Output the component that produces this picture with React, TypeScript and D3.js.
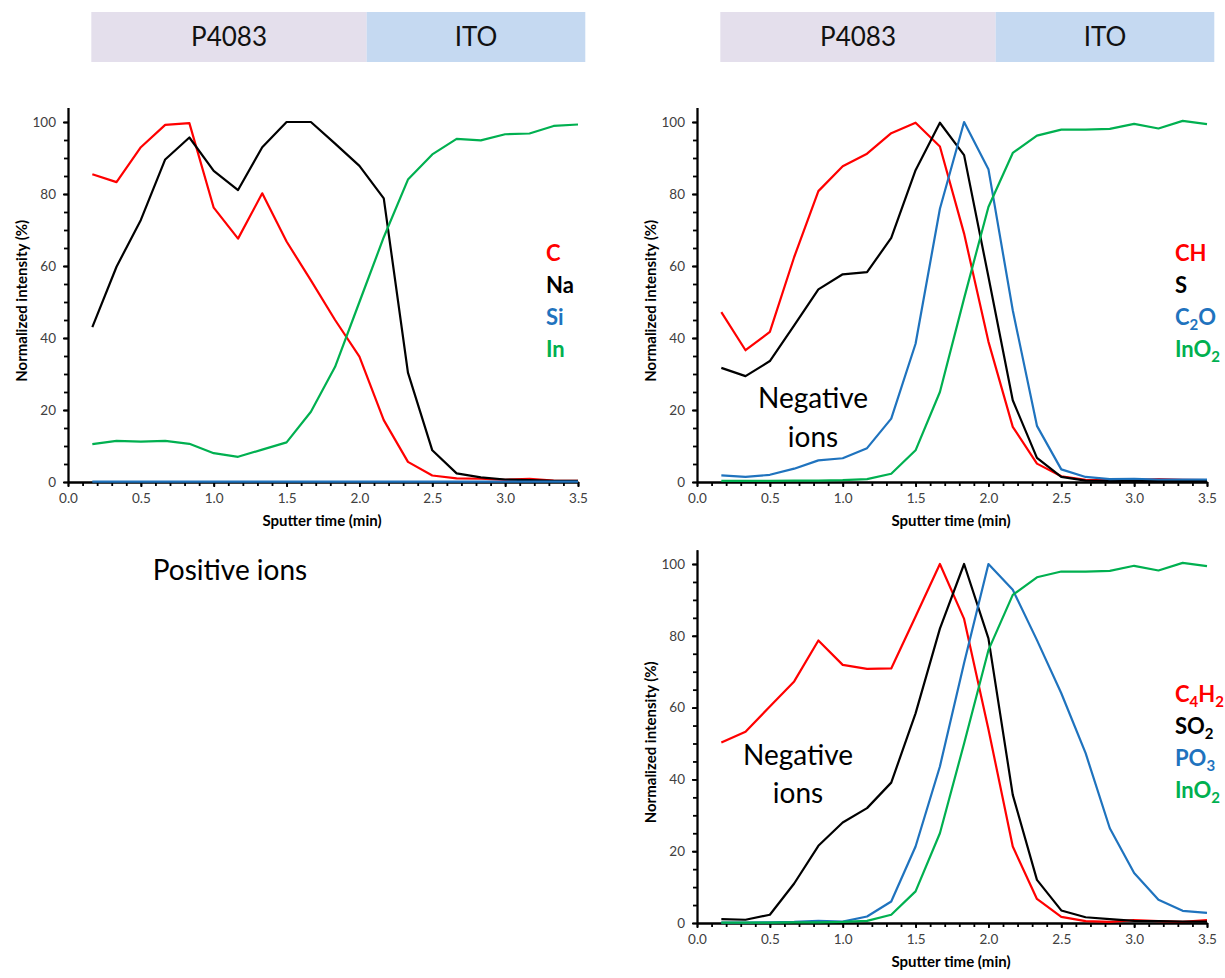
import { useEffect, useRef } from 'react';
import * as d3 from 'd3';

// sputter time (min), shared by every profile
const TIME = [0.167, 0.333, 0.5, 0.667, 0.833, 1.0, 1.167, 1.333, 1.5, 1.667, 1.833, 2.0, 2.167, 2.333, 2.5, 2.667, 2.833, 3.0, 3.167, 3.333, 3.5];

// positive ions
const POS_C = [85.5, 83.3, 93, 99.2, 99.7, 76.2, 67.6, 80.2, 66.8, 56, 45, 34.8, 17.2, 5.6, 1.8, 1.0, 0.9, 0.6, 0.9, 0.4, 0.3];
const POS_NA = [43, 59.8, 72.8, 89.6, 95.7, 86.4, 81.1, 93, 100, 100, 94, 87.8, 78.8, 30.4, 8.8, 2.4, 1.3, 0.7, 0.5, 0.3, 0.3];
const POS_SI = [0.1, 0.1, 0.1, 0.1, 0.1, 0.1, 0.1, 0.1, 0.1, 0.1, 0.1, 0.1, 0.1, 0.1, 0.1, 0.1, 0.1, 0.1, 0.1, 0.1, 0.1];
const POS_IN = [10.5, 11.4, 11.2, 11.4, 10.6, 8, 7, 9, 11, 19.5, 32, 50, 68, 84, 91, 95.3, 94.9, 96.6, 96.8, 98.9, 99.3];

// negative ions, upper panel
const NEG1_CH = [47.2, 36.6, 41.7, 62.5, 80.8, 87.7, 91.2, 96.9, 99.8, 93.2, 69, 39, 15.3, 5.1, 1.6, 0.6, 0.5, 0.5, 0.8, 0.6, 0.5];
const NEG1_S = [31.7, 29.4, 33.6, 43.5, 53.5, 57.7, 58.3, 67.8, 86.6, 99.8, 90.8, 57, 22.7, 6.7, 1.4, 0.4, 0.3, 0.3, 0.3, 0.3, 0.3];
const NEG1_C2O = [1.85, 1.4, 2, 3.7, 6, 6.6, 9.4, 17.6, 38.4, 75.9, 100, 86.9, 47.7, 15.6, 3.5, 1.4, 0.8, 0.9, 0.7, 0.7, 0.7];
const NEG1_INO2 = [0.3, 0.3, 0.3, 0.4, 0.4, 0.5, 0.8, 2.3, 8.8, 25, 51, 76.4, 91.4, 96.2, 97.9, 97.9, 98.1, 99.5, 98.2, 100.3, 99.4];

// negative ions, lower panel
const NEG2_C4H2 = [50.3, 53.3, 60.3, 67.3, 78.7, 71.9, 70.8, 70.9, 85.4, 100, 84.7, 54, 21.3, 6.7, 1.7, 0.5, 0.3, 0.8, 0.5, 0.3, 0.8];
const NEG2_SO2 = [1.1, 0.9, 2.3, 11, 21.5, 28, 32, 39.1, 58.4, 82, 100, 79.3, 35.7, 12, 3.5, 1.6, 1.1, 0.6, 0.5, 0.4, 0.4];
const NEG2_PO3 = [0.1, 0.1, 0.2, 0.3, 0.6, 0.4, 1.8, 6, 21.3, 43.6, 72.4, 100, 92.8, 78.8, 64, 47.3, 26.4, 13.9, 6.5, 3.4, 2.8];
const NEG2_INO2 = [0.1, 0.1, 0.1, 0.2, 0.2, 0.3, 0.6, 2.3, 8.8, 25, 50, 76, 91.4, 96.3, 97.9, 97.9, 98.1, 99.5, 98.2, 100.3, 99.4];

// layers on top of the profiles
const LAYERS = ['P4083', 'ITO'];
const LAYER_EDGES = [0.16, 2.05, 3.55];

const X_TICKS = [0, 0.5, 1.0, 1.5, 2.0, 2.5, 3.0, 3.5];
const Y_TICKS = [0, 20, 40, 60, 80, 100];

const RED = '#FF0000';
const BLACK = '#000000';
const BLUE = '#1F73BE';
const GREEN = '#00B050';
const LAYER_COLORS = ['#E4DFEC', '#C5D9F1'];
const FONT = 'Lato, "Open Sans", sans-serif';

const PANELS = [
    {
        x: [68, 578], y0: 482, y100: 122,
        series: [
            { name: 'C', values: POS_C, color: RED },
            { name: 'Na', values: POS_NA, color: BLACK },
            { name: 'Si', values: POS_SI, color: BLUE },
            { name: 'In', values: POS_IN, color: GREEN }
        ],
        bar: 12,
        note: null
    },
    {
        x: [697, 1207], y0: 482, y100: 122,
        series: [
            { name: 'CH', values: NEG1_CH, color: RED },
            { name: 'S', values: NEG1_S, color: BLACK },
            { name: 'C_2O', values: NEG1_C2O, color: BLUE },
            { name: 'InO_2', values: NEG1_INO2, color: GREEN }
        ],
        bar: 12,
        note: { cx: 813, lines: [408, 447] }
    },
    {
        x: [697, 1207], y0: 923, y100: 564,
        series: [
            { name: 'C_4H_2', values: NEG2_C4H2, color: RED },
            { name: 'SO_2', values: NEG2_SO2, color: BLACK },
            { name: 'PO_3', values: NEG2_PO3, color: BLUE },
            { name: 'InO_2', values: NEG2_INO2, color: GREEN }
        ],
        bar: null,
        note: { cx: 798, lines: [765, 803] }
    }
];

function addLabel(sel, name) {
    // "C_2O" -> C, subscript 2, O
    const parts = name.split(/_(\d)/);
    parts.forEach((p, i) => {
        if (!p) return;
        if (i % 2 === 1) {
            sel.append('tspan').attr('font-size', 15).attr('dy', 5).text(p);
        } else {
            sel.append('tspan').attr('dy', i > 0 ? -5 : 0).text(p);
        }
    });
}

export default function App() {
    const svgRef = useRef(null);

    useEffect(() => {
        const svg = d3.select(svgRef.current);
        svg.selectAll('*').remove();

        PANELS.forEach((panel) => {
            const yTop = panel.y0 - (panel.y0 - panel.y100) * 1.04;
            const xScale = d3.scaleLinear().domain([0, 3.5]).range(panel.x);
            const yScale = d3.scaleLinear().domain([0, 104]).range([panel.y0, yTop]);
            const g = svg.append('g');

            // layer bar
            if (panel.bar !== null) {
                LAYERS.forEach((layer, i) => {
                    const x0 = xScale(LAYER_EDGES[i]);
                    const x1 = xScale(LAYER_EDGES[i + 1]);
                    g.append('rect')
                        .attr('x', x0).attr('y', panel.bar)
                        .attr('width', x1 - x0).attr('height', 50)
                        .attr('fill', LAYER_COLORS[i]);
                    g.append('text')
                        .attr('x', (x0 + x1) / 2).attr('y', panel.bar + 34)
                        .attr('text-anchor', 'middle')
                        .attr('font-family', FONT).attr('font-size', 26)
                        .attr('fill', '#111')
                        .text(layer);
                });
            }

            // minor ticks
            const xMinor = d3.axisBottom(xScale).ticks(35).tickSize(4).tickSizeOuter(0).tickFormat(() => '');
            const yMinor = d3.axisLeft(yScale).tickValues(d3.range(0, 101, 5)).tickSize(4).tickSizeOuter(0).tickFormat(() => '');
            const xAxis = d3.axisBottom(xScale).tickValues(X_TICKS).tickSize(5).tickSizeOuter(0).tickPadding(6).tickFormat(d3.format('.1f'));
            const yAxis = d3.axisLeft(yScale).tickValues(Y_TICKS).tickSize(5).tickSizeOuter(0).tickPadding(7);

            const axes = [
                g.append('g').attr('transform', `translate(0,${panel.y0})`).call(xMinor),
                g.append('g').attr('transform', `translate(${panel.x[0]},0)`).call(yMinor),
                g.append('g').attr('transform', `translate(0,${panel.y0})`).call(xAxis),
                g.append('g').attr('transform', `translate(${panel.x[0]},0)`).call(yAxis)
            ];
            axes.forEach((a) => {
                a.selectAll('path, line').attr('stroke', '#000').attr('stroke-width', 1.8);
                a.selectAll('text').attr('font-family', FONT).attr('font-size', 13.5).attr('fill', '#404040');
            });
            axes[2].selectAll('text').attr('dy', '0.72em');

            // axis titles
            g.append('text')
                .attr('x', (panel.x[0] + panel.x[1]) / 2 - 1).attr('y', panel.y0 + 44)
                .attr('text-anchor', 'middle')
                .attr('font-family', FONT).attr('font-size', 15).attr('font-weight', 700)
                .text('Sputter time (min)');
            g.append('text')
                .attr('transform', `translate(${panel.x[0] - 41},${(panel.y0 + yTop) / 2 + 6}) rotate(-90)`)
                .attr('text-anchor', 'middle')
                .attr('font-family', FONT).attr('font-size', 15).attr('font-weight', 700)
                .text('Normalized intensity (%)');

            // profiles
            const line = d3.line()
                .x((d, i) => xScale(TIME[i]))
                .y((d) => yScale(d));
            panel.series.forEach((s) => {
                g.append('path')
                    .attr('d', line(s.values))
                    .attr('fill', 'none')
                    .attr('stroke', s.color)
                    .attr('stroke-width', 2.2)
                    .attr('stroke-linejoin', 'round');
            });

            // legend
            panel.series.forEach((s, i) => {
                const t = g.append('text')
                    .attr('x', panel.x[0] + 478)
                    .attr('y', panel.y0 - 221 + i * 32)
                    .attr('font-family', FONT).attr('font-size', 22).attr('font-weight', 700)
                    .attr('fill', s.color);
                addLabel(t, s.name);
            });

            if (panel.note) {
                ['Negative', 'ions'].forEach((word, i) => {
                    g.append('text')
                        .attr('x', panel.note.cx).attr('y', panel.note.lines[i])
                        .attr('text-anchor', 'middle')
                        .attr('font-family', FONT).attr('font-size', 28)
                        .attr('fill', '#000')
                        .text(word);
                });
            }
        });

        svg.append('text')
            .attr('x', 230).attr('y', 580)
            .attr('text-anchor', 'middle')
            .attr('font-family', FONT).attr('font-size', 28)
            .attr('fill', '#000')
            .text('Positive ions');
    }, []);

    return (
        <svg ref={svgRef} width={1225} height={978}
            style={{ position: 'absolute', left: 0, top: 0, background: '#fff' }} />
    );
}
